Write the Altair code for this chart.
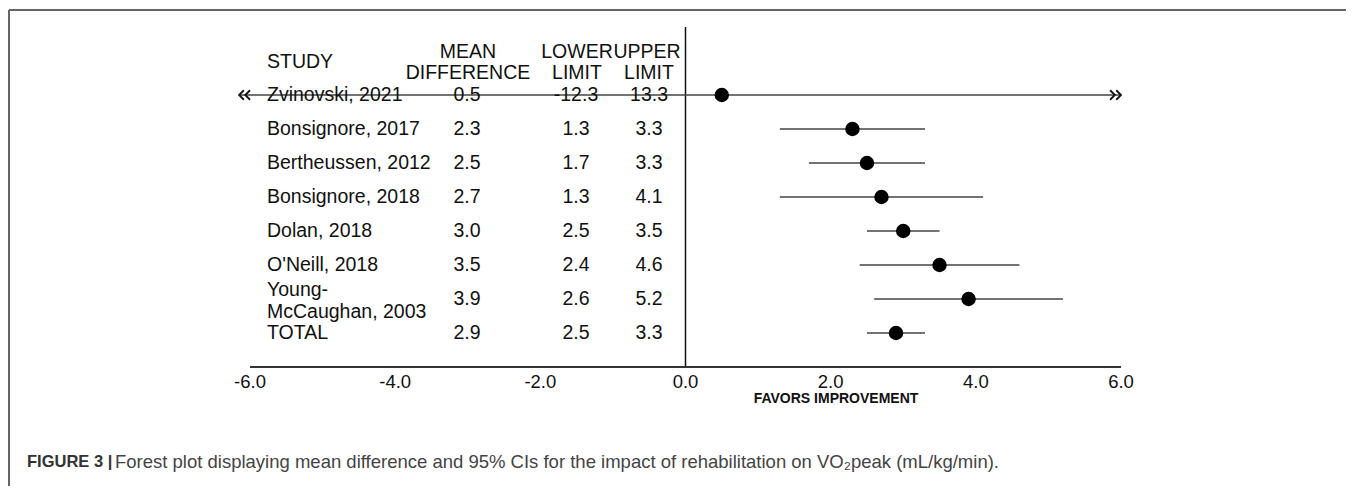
import altair as alt
import numpy as np
import pandas as pd

# ---- data ----
studies = ["Zvinovski, 2021", "Bonsignore, 2017", "Bertheussen, 2012", "Bonsignore, 2018",
           "Dolan, 2018", "O'Neill, 2018", "Young-\nMcCaughan, 2003", "TOTAL"]
mean_diff = [0.5, 2.3, 2.5, 2.7, 3.0, 3.5, 3.9, 2.9]
lower_limit = [-12.3, 1.3, 1.7, 1.3, 2.5, 2.4, 2.6, 2.5]
upper_limit = [13.3, 3.3, 3.3, 4.1, 3.5, 4.6, 5.2, 3.3]
row = list(range(len(studies)))
x_ticks = [-6, -4, -2, 0, 2, 4, 6]
x_tick_labels = ["-6.0", "-4.0", "-2.0", "0.0", "2.0", "4.0", "6.0"]
x_domain = [-6, 6]
line_left_end = -6.15   # truncated interval drawn slightly past the axis start
headers = ["STUDY", "MEAN", "DIFFERENCE", "LOWER", "LIMIT", "UPPER", "LIMIT"]
axis_title = "FAVORS IMPROVEMENT"
caption_bold = "FIGURE 3 |"
caption_text = ("Forest plot displaying mean difference and 95% CIs for the impact of "
                "rehabilitation on VO\u2082peak (mL/kg/min).")

df = pd.DataFrame({
    "study": studies, "mean": mean_diff, "lower": lower_limit,
    "upper": upper_limit, "row": row,
})
fmt1 = lambda v: f"{v:.1f}"
df["mean_s"] = df["mean"].map(fmt1)
df["lower_s"] = df["lower"].map(fmt1)
df["upper_s"] = df["upper"].map(fmt1)
df["lo_c"] = np.clip(df["lower"], line_left_end, x_domain[1])
df["hi_c"] = np.clip(df["upper"], x_domain[0], x_domain[1])
df["multi"] = df["study"].str.contains("\n")

FONT = "Liberation Sans"
TXT = 19.5
W, H = 871, 340
ROW_MAX = 8

xs = alt.Scale(domain=x_domain, nice=False, zero=False)
ys = alt.Scale(domain=[-2, ROW_MAX], reverse=True, nice=False, zero=False)

one = pd.DataFrame({"a": [0]})
base = alt.Chart(df)
Y = alt.Y("row:Q", scale=ys, axis=None)

# zero line
zero = alt.Chart(pd.DataFrame({"x": [0], "y1": [-2], "y2": [ROW_MAX]})).mark_rule(
    color="#111", strokeWidth=1.5).encode(
    x=alt.X("x:Q", scale=xs, axis=None), y=alt.Y("y1:Q", scale=ys, axis=None), y2="y2:Q")

# x axis drawn through the x scale
axis_line = alt.Chart(pd.DataFrame({"x1": [x_domain[0]], "x2": [x_domain[1]], "y": [ROW_MAX]})).mark_rule(
    color="#333", strokeWidth=2).encode(
    x=alt.X("x1:Q", scale=xs, axis=None), x2="x2:Q", y=alt.Y("y:Q", scale=ys, axis=None))
tick_labels = alt.Chart(pd.DataFrame({"t": x_ticks, "lab": x_tick_labels,
                                      "y": [ROW_MAX] * len(x_ticks)})).mark_text(
    baseline="middle", align="center", dy=15, font=FONT, fontSize=18.5, color="#111").encode(
    x=alt.X("t:Q", scale=xs, axis=None), y=alt.Y("y:Q", scale=ys, axis=None), text="lab:N")
title = alt.Chart(one).mark_text(
    baseline="middle", align="center", font=FONT, fontSize=14, fontWeight="bold",
    color="#111").encode(x=alt.value(586), y=alt.value(372), text=alt.value(axis_title))

ci = base.mark_rule(color="#444", strokeWidth=1.6).encode(
    x=alt.X("lo_c:Q", scale=xs, axis=None), x2="hi_c:Q", y=Y)

dots = base.mark_circle(size=210, color="#000", opacity=1).encode(
    x=alt.X("mean:Q", scale=xs, axis=None), y=Y)

def col(chart, field, px, align="center", **kw):
    return chart.mark_text(align=align, baseline="middle", font=FONT, fontSize=TXT,
                           color="#111", **kw).encode(x=alt.value(px), y=Y, text=field)

names_1 = col(base.transform_filter("!datum.multi"), "study:N", 17, align="left")
names_2 = col(base.transform_filter("datum.multi"), "study:N", 17, align="left",
              lineBreak="\n", lineHeight=22, dy=-9)
col_mean = col(base, "mean_s:N", 217)
col_low = col(base, "lower_s:N", 326)
col_up = col(base, "upper_s:N", 399)

# double arrowheads for the truncated interval (tips at the line ends)
arrow_df = pd.DataFrame({"x": [line_left_end, x_domain[1]], "row": [0, 0],
                         "dir": ["left", "right"]})
left_path = "M1,-1 L0,0 L1,1 M2.3,-1 L1.3,0 L2.3,1"
right_path = "M-1,-1 L0,0 L-1,1 M-2.3,-1 L-1.3,0 L-2.3,1"
arrow_l = alt.Chart(arrow_df).transform_filter("datum.dir == 'left'").mark_point(
    shape=left_path, size=90, filled=False, stroke="#111", strokeWidth=1.8, opacity=1
    ).encode(x=alt.X("x:Q", scale=xs, axis=None), y=Y)
arrow_r = alt.Chart(arrow_df).transform_filter("datum.dir == 'right'").mark_point(
    shape=right_path, size=90, filled=False, stroke="#111", strokeWidth=1.8, opacity=1
    ).encode(x=alt.X("x:Q", scale=xs, axis=None), y=Y)

# headers (layout positions in pixels)
hdr_pos = [(17, 35, "left"), (218, 25, "center"), (218, 46, "center"), (327, 25, "center"),
           (327, 46, "center"), (397, 25, "center"), (399, 46, "center")]
hdr_layers = []
for txt, (px, py, al) in zip(headers, hdr_pos):
    hdr_layers.append(alt.Chart(one).mark_text(
        align=al, baseline="middle", font=FONT, fontSize=TXT, color="#111").encode(
        x=alt.value(px), y=alt.value(py), text=alt.value(txt)))

# frame and caption
frame_top = alt.Chart(one).mark_rule(color="#666", strokeWidth=2).encode(
    x=alt.value(-241), x2=alt.value(1110), y=alt.value(-17))
frame_left = alt.Chart(one).mark_rule(color="#666", strokeWidth=2).encode(
    x=alt.value(-241), y=alt.value(-17), y2=alt.value(480))
cap_b = alt.Chart(one).mark_text(
    align="left", baseline="middle", font=FONT, fontSize=16.5, fontWeight="bold",
    color="#333").encode(x=alt.value(-223), y=alt.value(435), text=alt.value(caption_bold))
cap_r = alt.Chart(one).mark_text(
    align="left", baseline="middle", font=FONT, fontSize=18.5, color="#444").encode(
    x=alt.value(-135), y=alt.value(435), text=alt.value(caption_text))

chart = alt.layer(
    zero, axis_line, tick_labels, title, ci, dots, names_1, names_2, col_mean, col_low, col_up,
    arrow_l, arrow_r, *hdr_layers, frame_top, frame_left, cap_b, cap_r,
).properties(
    width=W, height=H,
    padding={"left": 242, "top": 19, "right": 225, "bottom": 119},
    autosize=alt.AutoSizeParams(type="none"),
    background="white",
).configure_view(strokeWidth=0)

chart.save("out.html", embed_options={"renderer": "svg", "actions": False})
